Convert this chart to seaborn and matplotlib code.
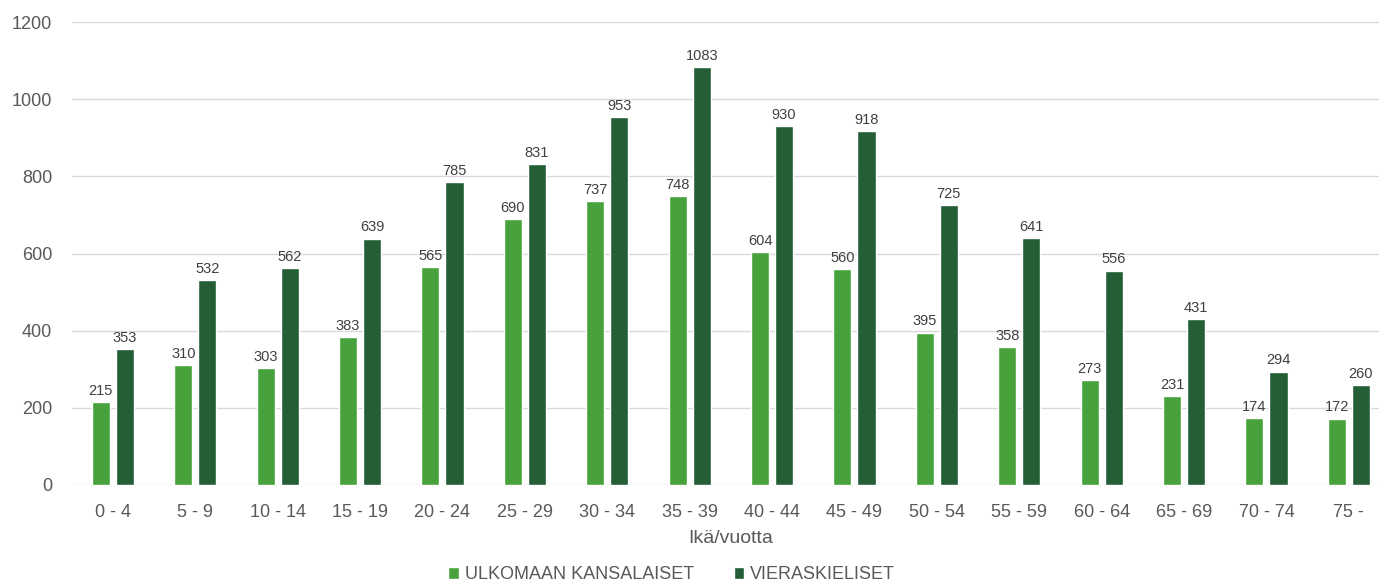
import pandas as pd
import matplotlib
matplotlib.use('Agg')
import matplotlib.pyplot as plt
import seaborn as sns

# ----------------------------------------------------
# Data
# ----------------------------------------------------
ikaryhmat = ['0 - 4', '5 - 9', '10 - 14', '15 - 19', '20 - 24', '25 - 29', '30 - 34', '35 - 39',
             '40 - 44', '45 - 49', '50 - 54', '55 - 59', '60 - 64', '65 - 69', '70 - 74', '75 -']
ulkomaan_kansalaiset = [215, 310, 303, 383, 565, 690, 737, 748, 604, 560, 395, 358, 273, 231, 174, 172]
vieraskieliset = [353, 532, 562, 639, 785, 831, 953, 1083, 930, 918, 725, 641, 556, 431, 294, 260]
sarjat = ['ULKOMAAN KANSALAISET', 'VIERASKIELISET']
varit = ['#48a23c', '#235e37']

df = pd.DataFrame({
    'ika': ikaryhmat * 2,
    'ryhma': [sarjat[0]] * len(ikaryhmat) + [sarjat[1]] * len(ikaryhmat),
    'arvo': ulkomaan_kansalaiset + vieraskieliset,
})

# ----------------------------------------------------
# Plot
# ----------------------------------------------------
sns.set_style('white')
plt.rcParams['font.family'] = ['Liberation Sans', 'DejaVu Sans']
harmaa = '#595959'

fig = plt.figure(figsize=(13.79, 5.82), dpi=100)
ax = fig.add_axes([0.052, 0.1667, 0.956, 0.7953])

sns.barplot(data=df, x='ika', y='arvo', hue='ryhma', palette=varit, width=0.585, gap=0.25,
            saturation=1, ax=ax, legend=True)

for cont in ax.containers:
    ax.bar_label(cont, padding=3, fontsize=10.5, color='#404040')

ax.set_ylim(0, 1200)
ax.set_yticks(range(0, 1201, 200))
ax.set_xlim(-0.5, len(ikaryhmat) - 0.5)
ax.grid(axis='y', color='#d9d9d9', linewidth=1)
ax.set_axisbelow(True)
for s in ax.spines.values():
    s.set_visible(False)
ax.tick_params(axis='both', length=0, labelsize=13, labelcolor=harmaa)
ax.tick_params(axis='x', pad=14)
ax.tick_params(axis='y', pad=14)
ax.set_ylabel('')
ax.set_xlabel('Ikä/vuotta', fontsize=14, color=harmaa, labelpad=6)

handles, labels = ax.get_legend_handles_labels()
ax.get_legend().remove()
fig.legend(handles, labels, loc='lower center', bbox_to_anchor=(0.487, -0.03), ncol=2,
           frameon=False, handlelength=0.6, handleheight=0.6, handletextpad=0.3,
           columnspacing=2.2, labelcolor=harmaa, prop={'size': 13})

fig.savefig('out.png', dpi=100)
